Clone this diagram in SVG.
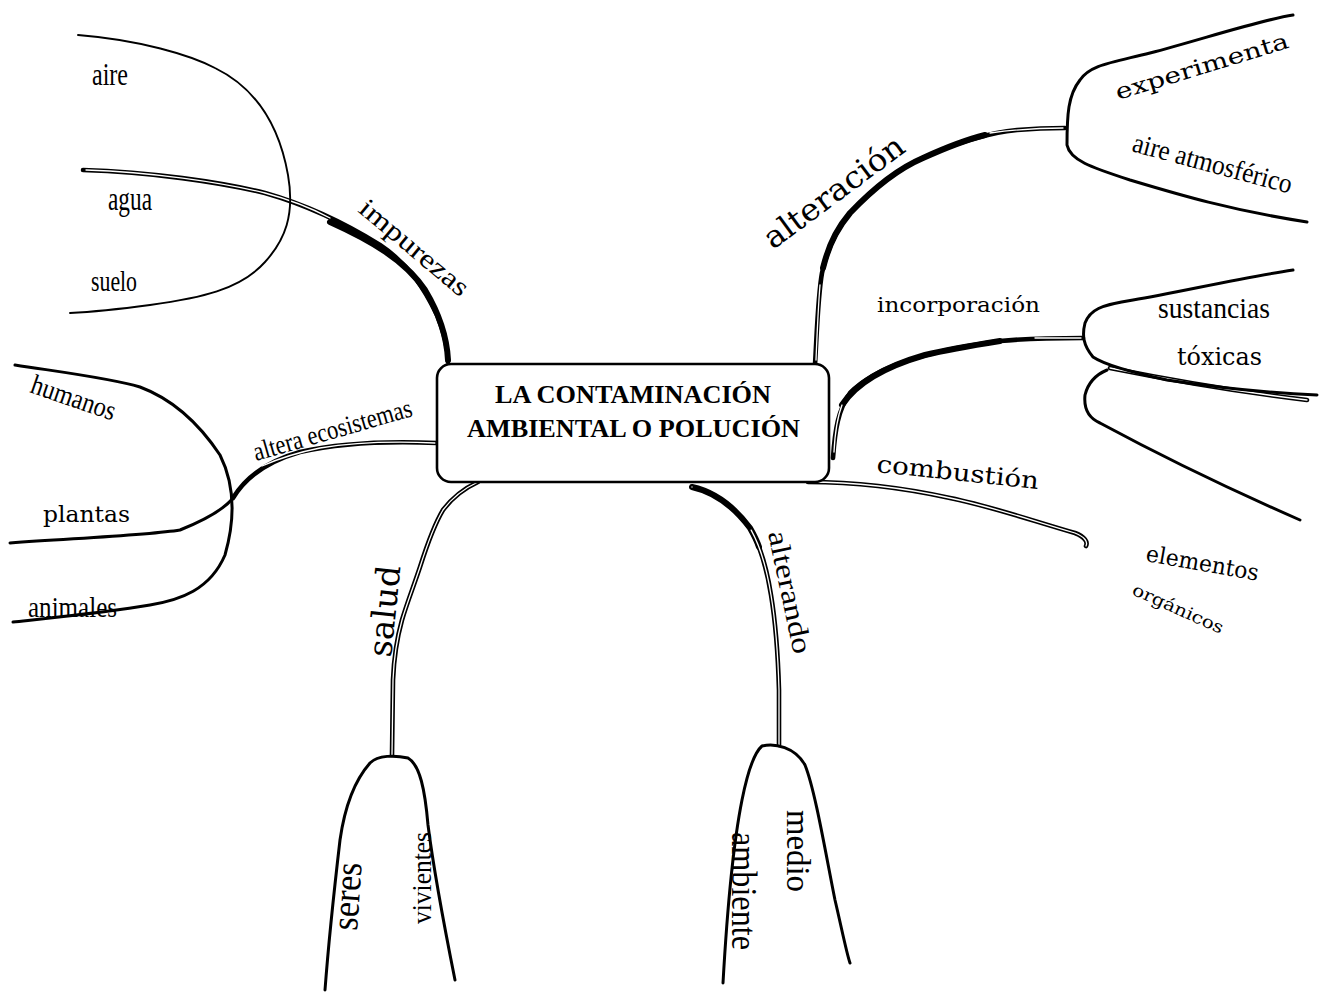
<svg xmlns="http://www.w3.org/2000/svg" xmlns:xlink="http://www.w3.org/1999/xlink" width="1319" height="992" viewBox="0 0 1319 992">
  <style>
    .ln { fill: none; stroke: #000; stroke-linecap: round; stroke-linejoin: round; }
    .br { stroke-width: 3; }
    .fine { stroke-width: 1.9; }
    .outer { stroke-width: 4.6; }
    .heavy { stroke-width: 6; }
    .core { fill: none; stroke: #fff; stroke-width: 1.3; stroke-linecap: round; }
    .cond { font-family: "Liberation Serif", "Times New Roman", serif; fill: #000; }
    .wide { font-family: "DejaVu Serif", "Liberation Serif", serif; fill: #000; }
    .title { font-family: "Liberation Serif", "Times New Roman", serif; font-weight: bold; font-size: 25px; fill: #000; }
  </style>
  <defs>
    <!-- branch routes, reused for the outlined (hollow) stroke -->
    <path id="p-impurezas" d="M83,170 C150,172 220,182 265,193 C300,203 340,220 380,245 C410,265 425,290 437,315 C445,335 448,350 448,362"/>
    <path id="p-impurezas-core" d="M86,170 C150,172 220,182 265,193 C295,201 315,210 330,218"/>
    <path id="p-altera" d="M233,498 C245,478 265,462 300,452 C340,443 390,441 437,443"/>
    <path id="p-altera-core" d="M262,466 C280,458 300,452 320,448 C350,443 390,441 435,443"/>
    <path id="p-alteracion" d="M815,365 C817,330 818,295 822,273 C828,245 840,225 850,213 C870,192 895,170 923,158 C950,145 990,132 1017,130 C1040,128 1055,128 1065,128"/>
    <path id="p-alteracion-core1" d="M816,360 C817,335 818,310 820,285"/>
    <path id="p-alteracion-core2" d="M990,133 C1020,129 1040,128 1063,128"/>
    <path id="p-incorp" d="M833,458 C835,430 838,410 850,393 C875,368 920,352 1000,341 C1030,338 1060,338 1083,338"/>
    <path id="p-incorp-core1" d="M834,452 C835,432 837,418 842,405"/>
    <path id="p-incorp-core2" d="M1035,338 C1055,338 1070,338 1081,338"/>
    <path id="p-combustion" d="M808,482 C850,482 900,487 950,498 C990,506 1030,520 1075,533 C1085,537 1088,542 1086,546"/>
    <path id="p-salud" d="M478,482 C465,488 452,498 443,510 C434,525 427,545 420,567 C413,588 407,603 402,620 C397,638 394,655 393,680 L392,755"/>
    <path id="p-alterando" d="M692,487 C715,492 735,508 750,528 C760,545 767,570 771,595 C776,625 778,655 779,690 L779,745"/>
    <path id="p-toxicas2" d="M1110,368 C1170,380 1240,392 1307,400"/>
  </defs>

  <rect width="1319" height="992" fill="#fff"/>

  <!-- connectors -->
  <g id="connectors">
    <!-- impurezas -->
    <use xlink:href="#p-impurezas" class="ln outer"/>
    <path d="M330,222 C370,240 405,260 425,290 C440,315 447,340 448,360" class="ln heavy"/>
    <use xlink:href="#p-impurezas-core" class="core"/>
    <!-- altera ecosistemas / plantas -->
    <path d="M10,543 C80,538 150,535 180,530 C205,520 225,508 233,498" class="ln" stroke-width="3"/>
    <use xlink:href="#p-altera" class="ln outer"/>
    <use xlink:href="#p-altera-core" class="core"/>
    <!-- alteración -->
    <use xlink:href="#p-alteracion" class="ln outer"/>
    <path d="M823,268 C830,240 840,225 850,213 C870,192 895,170 923,158 C945,148 965,140 985,135" class="ln heavy"/>
    <use xlink:href="#p-alteracion-core1" class="core"/>
    <use xlink:href="#p-alteracion-core2" class="core"/>
    <!-- incorporación -->
    <use xlink:href="#p-incorp" class="ln outer"/>
    <path d="M842,405 C855,385 880,368 925,355 C950,349 975,345 1000,341" class="ln heavy"/>
    <use xlink:href="#p-incorp-core1" class="core"/>
    <use xlink:href="#p-incorp-core2" class="core"/>
    <!-- combustión -->
    <use xlink:href="#p-combustion" class="ln outer"/>
    <use xlink:href="#p-combustion" class="core"/>
    <!-- salud -->
    <use xlink:href="#p-salud" class="ln outer"/>
    <use xlink:href="#p-salud" class="core"/>
    <!-- alterando -->
    <use xlink:href="#p-alterando" class="ln outer"/>
    <path d="M692,487 C715,492 735,508 750,528 C754,535 757,541 759,547" class="ln heavy"/>
    <use xlink:href="#p-alterando" class="core" stroke-dasharray="0 75 300"/>
    <!-- lower edge of the sustancias bracket -->
    <use xlink:href="#p-toxicas2" class="ln outer"/>
    <use xlink:href="#p-toxicas2" class="core"/>
  </g>

  <!-- central node -->
  <g id="node-central">
    <rect x="437" y="364" width="392" height="118" rx="14" ry="14" fill="#fff" stroke="#000" stroke-width="2.6"/>
    <text class="title" x="495" y="403" textLength="276" lengthAdjust="spacingAndGlyphs">LA CONTAMINACIÓN</text>
    <text class="title" x="467" y="437" textLength="333" lengthAdjust="spacingAndGlyphs">AMBIENTAL O POLUCIÓN</text>
  </g>

  <!-- impurezas: aire / agua / suelo -->
  <g id="node-impurezas">
    <text class="cond" font-size="27" transform="translate(357,211) rotate(40)" textLength="135" lengthAdjust="spacingAndGlyphs">impurezas</text>
    <path class="ln fine" d="M78,35 C140,40 190,55 215,68 C260,90 280,130 288,175 C295,215 285,240 265,262 C240,290 200,298 150,305 C120,309 90,312 70,313"/>
    <text class="cond" font-size="32" x="92" y="85" textLength="36" lengthAdjust="spacingAndGlyphs">aire</text>
    <text class="cond" font-size="33" x="108" y="210" textLength="44" lengthAdjust="spacingAndGlyphs">agua</text>
    <text class="cond" font-size="30" x="91" y="291" textLength="46" lengthAdjust="spacingAndGlyphs">suelo</text>
  </g>

  <!-- altera ecosistemas: humanos / plantas / animales -->
  <g id="node-ecosistemas">
    <text class="cond" font-size="27" transform="translate(256,461) rotate(-16)" textLength="164" lengthAdjust="spacingAndGlyphs">altera ecosistemas</text>
    <path class="ln br" d="M15,365 C60,372 110,378 140,387 C175,400 200,425 220,455 C235,485 235,520 225,555 C210,590 180,600 150,605 C110,612 50,618 13,622"/>
    <text class="cond" font-size="28" transform="translate(29,392) rotate(19)" textLength="88" lengthAdjust="spacingAndGlyphs">humanos</text>
    <text class="wide" font-size="23" x="43" y="522" textLength="87" lengthAdjust="spacingAndGlyphs">plantas</text>
    <text class="cond" font-size="29" x="28" y="617" textLength="89" lengthAdjust="spacingAndGlyphs">animales</text>
  </g>

  <!-- alteración: experimenta / aire atmosférico -->
  <g id="node-alteracion">
    <text class="wide" font-size="31" transform="translate(773,250) rotate(-36.5)" textLength="167" lengthAdjust="spacingAndGlyphs">alteración</text>
    <path class="ln br" d="M1293,15 C1260,20 1200,40 1150,53 C1110,63 1090,65 1080,80 C1068,95 1067,115 1067,145 C1070,160 1090,167 1130,180 C1180,195 1230,210 1307,222"/>
    <text class="wide" font-size="22" transform="translate(1118,100) rotate(-17)" textLength="180" lengthAdjust="spacingAndGlyphs">experimenta</text>
    <text class="cond" font-size="28" transform="translate(1131,151) rotate(15)" textLength="164" lengthAdjust="spacingAndGlyphs">aire atmosférico</text>
  </g>

  <!-- incorporación: sustancias tóxicas -->
  <g id="node-incorporacion">
    <text class="wide" font-size="20" x="877" y="312" textLength="163" lengthAdjust="spacingAndGlyphs">incorporación</text>
    <path class="ln br" d="M1293,270 C1240,278 1180,292 1133,300 C1100,305 1090,310 1085,323 C1082,335 1083,345 1093,357 C1105,365 1130,372 1167,380 C1220,388 1270,393 1317,395"/>
    <path class="ln br" d="M1107,370 C1095,375 1088,383 1085,395 C1084,405 1086,417 1100,423 C1150,450 1220,485 1300,520"/>
    <text class="cond" font-size="29" x="1158" y="318" textLength="112" lengthAdjust="spacingAndGlyphs">sustancias</text>
    <text class="wide" font-size="25" x="1177" y="365" textLength="85" lengthAdjust="spacingAndGlyphs">tóxicas</text>
  </g>

  <!-- combustión: elementos orgánicos -->
  <g id="node-combustion">
    <text class="wide" font-size="24" transform="translate(876,472) rotate(6)" textLength="163" lengthAdjust="spacingAndGlyphs">combustión</text>
    <text class="wide" font-size="23" transform="translate(1145,561) rotate(10)" textLength="114" lengthAdjust="spacingAndGlyphs">elementos</text>
    <text class="wide" font-size="17" transform="translate(1131,594) rotate(24)" textLength="98" lengthAdjust="spacingAndGlyphs">orgánicos</text>
  </g>

  <!-- salud: seres vivientes -->
  <g id="node-salud">
    <text class="wide" font-size="33" transform="translate(391,658) rotate(-84)" textLength="92" lengthAdjust="spacingAndGlyphs">salud</text>
    <path class="ln br" d="M325,990 C328,950 333,900 340,840 C345,805 355,780 370,763 C378,755 395,755 408,758 C420,765 425,790 428,825 C435,880 445,930 455,980"/>
    <text class="cond" font-size="38" transform="translate(357,931) rotate(-86)" textLength="68" lengthAdjust="spacingAndGlyphs">seres</text>
    <text class="cond" font-size="28" transform="translate(431,924) rotate(-90)" textLength="92" lengthAdjust="spacingAndGlyphs">vivientes</text>
  </g>

  <!-- alterando: medio ambiente -->
  <g id="node-alterando">
    <text class="cond" font-size="28" transform="translate(768,533) rotate(78)" textLength="125" lengthAdjust="spacingAndGlyphs">alterando</text>
    <path class="ln br" d="M723,983 C726,930 732,850 742,800 C748,770 755,752 762,746 C775,743 795,747 805,765 C815,790 825,850 835,900 C842,930 847,955 850,963"/>
    <text class="cond" font-size="34" transform="translate(787,810) rotate(90)" textLength="82" lengthAdjust="spacingAndGlyphs">medio</text>
    <text class="cond" font-size="36" transform="translate(732,832) rotate(90)" textLength="118" lengthAdjust="spacingAndGlyphs">ambiente</text>
  </g>
</svg>
